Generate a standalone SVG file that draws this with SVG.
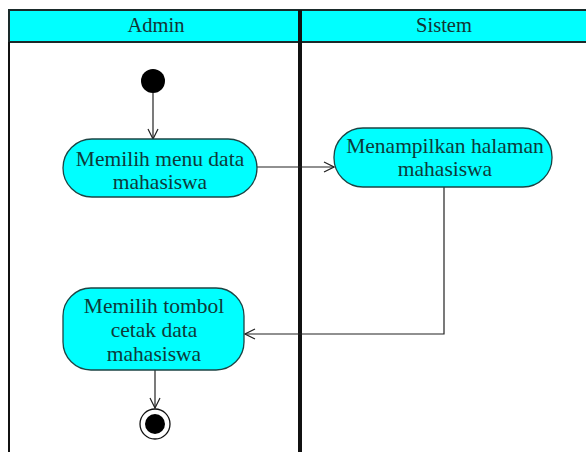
<svg xmlns="http://www.w3.org/2000/svg" width="586" height="452" viewBox="0 0 586 452">
  <style>
    .lane-head { fill: #00ffff; stroke: #1a2a2a; stroke-width: 2; }
    .lane-line { stroke: #111; fill: none; }
    .action { fill: #00ffff; stroke: #1c4444; stroke-width: 1.3; }
    .label { font-family: "Liberation Serif", "Times New Roman", serif; font-size: 21.5px; fill: #0e3a3a; text-anchor: middle; }
    .head-label { font-family: "Liberation Serif", "Times New Roman", serif; font-size: 20.5px; fill: #143434; text-anchor: middle; }
    .flow { stroke: #222; stroke-width: 1.2; fill: none; marker-end: url(#open-arrow); }
  </style>
  <defs>
    <marker id="open-arrow" viewBox="0 0 12 12" refX="11" refY="6" markerWidth="12" markerHeight="12" markerUnits="userSpaceOnUse" orient="auto">
      <path d="M1,1 L11,6 L1,11" fill="none" stroke="#222" stroke-width="1.2"/>
    </marker>
  </defs>
  <rect width="586" height="452" fill="#ffffff"/>

  <!-- swimlanes -->
  <g id="lanes">
    <rect class="lane-head" x="9" y="10" width="590" height="32"/>
    <line class="lane-line" x1="9" y1="42" x2="9" y2="452" stroke-width="2"/>
    <line class="lane-line" x1="300" y1="10" x2="300" y2="452" stroke-width="4"/>
    <text class="head-label" x="156" y="32">Admin</text>
    <text class="head-label" x="444" y="32">Sistem</text>
  </g>

  <!-- connectors -->
  <g id="connectors">
    <line class="flow" x1="153" y1="93" x2="153" y2="139"/>
    <line class="flow" x1="257" y1="167" x2="334" y2="167"/>
    <polyline class="flow" points="444,187 444,334 245,334"/>
    <line class="flow" x1="155" y1="370" x2="155" y2="408"/>
  </g>

  <g id="start">
    <circle cx="153" cy="81" r="12" fill="#000"/>
  </g>

  <g id="pilih-menu">
    <rect class="action" x="63" y="139" width="194" height="58" rx="29" ry="29"/>
    <text class="label" x="160" y="166">Memilih menu data</text>
    <text class="label" x="160" y="189">mahasiswa</text>
  </g>

  <g id="tampil-halaman">
    <rect class="action" x="334" y="128" width="218" height="59" rx="29" ry="29"/>
    <text class="label" x="445" y="153">Menampilkan halaman</text>
    <text class="label" x="445" y="176">mahasiswa</text>
  </g>

  <g id="pilih-cetak">
    <rect class="action" x="63" y="288" width="181" height="82" rx="28" ry="28"/>
    <text class="label" x="154" y="313">Memilih tombol</text>
    <text class="label" x="154" y="337">cetak data</text>
    <text class="label" x="154" y="361">mahasiswa</text>
  </g>

  <g id="end">
    <circle cx="155" cy="424" r="15" fill="#fff" stroke="#111" stroke-width="1.3"/>
    <circle cx="155" cy="424" r="10" fill="#000"/>
  </g>
</svg>
